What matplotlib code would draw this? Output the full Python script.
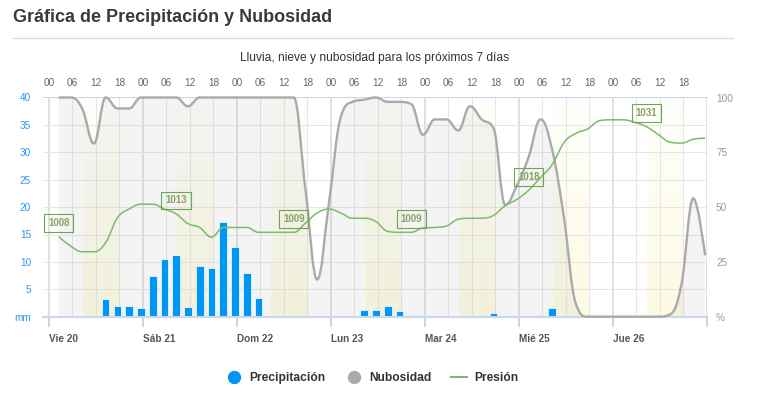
import numpy as np
import matplotlib
matplotlib.use('Agg')
import matplotlib.pyplot as plt
from matplotlib.path import Path
from matplotlib.patches import PathPatch
from matplotlib.lines import Line2D

plt.rcParams['font.family'] = ['Liberation Sans', 'DejaVu Sans']

# horas desde el Vie 20 00:00, un dato cada 3 h
horas = 2.5 + 3 * np.arange(56)

precipitacion = [0.2, 0, 0, 0.2, 3.2, 2.0, 2.0, 1.6,
                 7.5, 10.6, 11.3, 1.8, 9.2, 8.9, 17.3, 12.8,
                 7.9, 3.5, 0, 0, 0, 0, 0, 0,
                 0, 0.2, 1.3, 1.3, 1.9, 1.1, 0.4, 0.3,
                 0, 0, 0, 0.1, 0.25, 0.6, 0.05, 0,
                 0, 0.3, 1.6, 0, 0, 0, 0, 0,
                 0, 0, 0, 0, 0, 0, 0, 0]
nubosidad = [100, 100, 95, 79, 100, 95, 95, 100,
             100, 100, 100, 96, 100, 100, 100, 100,
             100, 100, 100, 100, 100, 58, 17, 52,
             91, 98, 99, 100, 98, 98, 97, 83,
             90, 90, 85, 96, 90, 86, 51, 60,
             73, 90, 76, 45, 6, 0, 0, 0,
             0, 0, 0, 0, 1, 15, 54, 28]
presion = [1008.1, 1006.2, 1005.0, 1005.0, 1006.9, 1012.0, 1013.8, 1014.8,
           1014.8, 1013.8, 1012.8, 1010.8, 1010.0, 1008.0, 1010.0, 1010.0,
           1010.0, 1009.0, 1009.0, 1009.0, 1009.0, 1010.9, 1013.0, 1013.8,
           1013.0, 1011.9, 1011.9, 1011.2, 1009.2, 1009.0, 1009.0, 1009.9,
           1010.0, 1010.3, 1011.7, 1011.9, 1011.9, 1012.5, 1014.5, 1015.8,
           1017.7, 1020.3, 1023.0, 1027.5, 1029.4, 1030.3, 1032.0, 1032.2,
           1032.2, 1031.7, 1030.8, 1029.2, 1027.6, 1027.4, 1028.2, 1028.4]
etiquetas_presion = [0, 10, 20, 30, 40, 50]

dias = ['Vie 20', 'Sáb 21', 'Dom 22', 'Lun 23', 'Mar 24', 'Mié 25', 'Jue 26']
horas_top = ['00', '06', '12', '18'] * 7
orto, ocaso = 8.8, 17.9

azul = '#0096f5'
gris = '#aaaaaa'
verde = '#7dba6a'


def spline_path(x, y):
    # curva tipo "spline" de Highcharts (suavizado 1.5) con beziers cubicas
    x = np.asarray(x, float)
    y = np.asarray(y, float)
    n = len(x)
    lc = list(zip(x, y))
    rc = list(zip(x, y))
    s = 1.5
    d = s + 1
    for i in range(1, n - 1):
        lx = (s * x[i] + x[i - 1]) / d
        ly = (s * y[i] + y[i - 1]) / d
        rx = (s * x[i] + x[i + 1]) / d
        ry = (s * y[i] + y[i + 1]) / d
        if rx != lx:
            corr = (ry - ly) * (rx - x[i]) / (rx - lx) + y[i] - ry
            ly += corr
            ry += corr
        if ly > y[i - 1] and ly > y[i]:
            ly = max(y[i - 1], y[i]); ry = 2 * y[i] - ly
        elif ly < y[i - 1] and ly < y[i]:
            ly = min(y[i - 1], y[i]); ry = 2 * y[i] - ly
        if ry > y[i + 1] and ry > y[i]:
            ry = max(y[i + 1], y[i]); ly = 2 * y[i] - ry
        elif ry < y[i + 1] and ry < y[i]:
            ry = min(y[i + 1], y[i]); ly = 2 * y[i] - ry
        lc[i] = (lx, ly)
        rc[i] = (rx, ry)
    verts = [(x[0], y[0])]
    codes = [Path.MOVETO]
    for i in range(1, n):
        verts += [rc[i - 1], lc[i], (x[i], y[i])]
        codes += [Path.CURVE4] * 3
    return verts, codes


fig = plt.figure(figsize=(7.6, 3.97), dpi=100)
rect = [43 / 760, 1 - 316.7 / 397, 664 / 760, 219.2 / 397]
ax = fig.add_axes(rect)
ax_c = ax.twinx()
ax_p = ax.twinx()

# franjas de dia
grad = np.zeros((64, 1, 4))
grad[..., 0] = 250 / 255
grad[..., 1] = 242 / 255
grad[..., 2] = 160 / 255
grad[:, 0, 3] = np.linspace(0.30, 0.04, 64)
for d in range(7):
    ax.imshow(grad, extent=(24 * d + orto, 24 * d + ocaso, 0, 40), aspect='auto',
              origin='lower', interpolation='bilinear', zorder=0.2)

# nubosidad (area)
v, c = spline_path(horas, nubosidad)
v_fill = v + [(horas[-1], 0), (horas[0], 0), (horas[0], nubosidad[0])]
c_fill = c + [Path.LINETO, Path.LINETO, Path.CLOSEPOLY]
ax.add_patch(PathPatch(Path(v_fill, c_fill), fc=gris, alpha=0.12, ec='none',
                       transform=ax_c.transData, zorder=1))
ax_c.add_patch(PathPatch(Path(v, c), fill=False, ec=gris, lw=1.7, clip_on=False))

# precipitacion
ax.bar(horas, precipitacion, width=1.95, color=azul, edgecolor='white', linewidth=0.5, zorder=2)

# presion
v, c = spline_path(horas, presion)
ax_p.add_patch(PathPatch(Path(v, c), fill=False, ec=verde, lw=1.1))
for i in etiquetas_presion:
    ax_p.annotate(f'{presion[i]:.0f}', (horas[i], presion[i]), xytext=(0, 13.5),
                  textcoords='offset pixels', ha='center', va='center', fontsize=7,
                  fontweight='bold', color='#8a9f62',
                  bbox=dict(boxstyle='square,pad=0.4', fc='none', ec='#6aa84f', lw=0.8))

ax.set_xlim(-1.5, 168)
ax.set_ylim(0, 40)
ax_c.set_ylim(0, 100)
ax_p.set_ylim(991.6, 1036.8)

# ejes
ax.set_yticks(np.arange(0, 41, 5), ['mm'] + [str(t) for t in range(5, 41, 5)])
ax.tick_params(axis='y', length=0, pad=8.6, labelsize=7.2, labelcolor='#2f94f0')
ax.set_xticks(np.arange(0, 169, 24), dias + [''])
ax.set_xticks(np.arange(0, 169, 6), minor=True)
ax.tick_params(axis='x', which='major', length=7.2, width=1.5, color='#ccd6eb', pad=5.4,
               labelsize=7.2, labelcolor='#555555')
ax.tick_params(axis='x', which='minor', length=0)
for lab in ax.get_xticklabels():
    lab.set_fontweight('bold')
    lab.set_ha('left')
ax.set_axisbelow(True)
ax.grid(axis='y', color='#e6e6e6', lw=0.75)
ax.grid(axis='x', which='minor', color='#e6e6e6', lw=0.75)
ax.grid(axis='x', which='major', color='#e0e0e0', lw=1.4)

ax_c.set_yticks([0, 25, 50, 75, 100], ['%', '25', '50', '75', '100'])
ax_c.tick_params(axis='y', length=0, pad=6.5, labelsize=7.2, labelcolor='#999999')
ax_p.set_yticks([])

for a in (ax, ax_c, ax_p):
    for sp in a.spines.values():
        sp.set_visible(False)
ax.spines['bottom'].set_visible(True)
ax.spines['bottom'].set_color('#ccd6eb')
ax.spines['bottom'].set_linewidth(1.5)

sec = ax.secondary_xaxis('top')
sec.set_xticks(np.arange(0, 168, 6), horas_top)
sec.tick_params(length=0, pad=6.5, labelsize=7.2, labelcolor='#666666')
sec.spines['top'].set_color('#ccd6eb')
sec.spines['top'].set_linewidth(0.75)

# titulos
fig.text(13 / 760, 1 - 18 / 397, 'Gráfica de Precipitación y Nubosidad', fontsize=13,
         fontweight='bold', color='#3a3a3a', ha='left', va='center')
fig.add_artist(Line2D([13 / 760, 733 / 760], [1 - 37.5 / 397] * 2, color='#dddddd', lw=1))
fig.text(375 / 760, 1 - 58 / 397, 'Lluvia, nieve y nubosidad para los próximos 7 días',
         fontsize=8.64, color='#333333', ha='center', va='center')

handles = [Line2D([], [], ls='none', marker='o', ms=8.6, mfc=azul, mec=azul),
           Line2D([], [], ls='none', marker='o', ms=8.6, mfc=gris, mec=gris),
           Line2D([], [], color=verde, lw=1.5)]
fig.legend(handles, ['Precipitación', 'Nubosidad', 'Presión'], loc='center',
           bbox_to_anchor=(372.5 / 760, 1 - 378 / 397), ncol=3, frameon=False,
           prop={'weight': 'bold', 'size': 8.64}, labelcolor='#333333',
           handlelength=1.33, handletextpad=0.6, columnspacing=1.67)

fig.savefig('out.png', dpi=100, facecolor='white')
